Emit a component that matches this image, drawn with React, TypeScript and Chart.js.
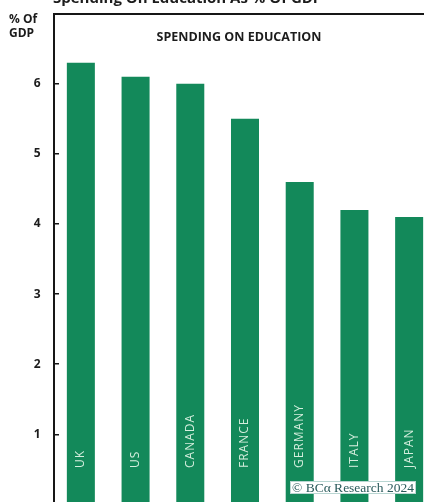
import React, { useEffect, useRef } from "react";
import { Chart, registerables } from "chart.js";

Chart.register(...registerables);

const countries = ["UK", "US", "CANADA", "FRANCE", "GERMANY", "ITALY", "JAPAN"];
const spendingPctGdp = [6.3, 6.1, 6.0, 5.5, 4.6, 4.2, 4.1];
const yTicks = [1, 2, 3, 4, 5, 6];

const BAR_GREEN = "#13895a";
const INK = "#1c1c1c";
const SANS = "'Open Sans', 'Noto Sans', sans-serif";

const CANVAS_W = 460;
const CANVAS_H = 545;
const OFFSET_TOP = 20;

// headings, unit label, bar names and source stamp
const textPlugin = {
  id: "texts",
  afterDatasetsDraw(chart: any) {
    const { ctx, scales } = chart;
    const x = scales.x;
    ctx.save();

    ctx.fillStyle = "#d4eedd";
    ctx.font = `12px ${SANS}`;
    ctx.textAlign = "left";
    ctx.textBaseline = "middle";
    countries.forEach((name, i) => {
      const px = x.getPixelForValue(i);
      ctx.save();
      ctx.translate(px, 468 + OFFSET_TOP);
      ctx.rotate(-Math.PI / 2);
      let cx = 0;
      for (const ch of name) {
        ctx.fillText(ch, cx, 0);
        cx += ctx.measureText(ch).width + 1;
      }
      ctx.restore();
    });

    ctx.fillStyle = INK;
    ctx.font = `bold 12.5px ${SANS}`;
    ctx.textAlign = "center";
    ctx.textBaseline = "middle";
    ctx.fillText("SPENDING ON EDUCATION", 239, 37 + OFFSET_TOP);

    ctx.textAlign = "left";
    ctx.font = `bold 12px ${SANS}`;
    ctx.fillText("% Of", 9, 20 + OFFSET_TOP);
    ctx.fillText("GDP", 9, 34 + OFFSET_TOP);

    ctx.font = `bold 15px ${SANS}`;
    ctx.textBaseline = "alphabetic";
    ctx.fillText("Spending On Education As % Of GDP", 53, 3 + OFFSET_TOP);

    const bx = 290, by = 481 + OFFSET_TOP, bw = 126, bh = 13;
    ctx.fillStyle = "#ffffff";
    ctx.fillRect(bx, by, bw, bh);
    ctx.fillStyle = "#b9d6d2";
    ctx.fillRect(bx, by, bw, 1);
    ctx.fillRect(bx, by + bh - 1, bw, 1);
    ctx.fillRect(bx, by, 1, bh);
    ctx.fillRect(bx + bw - 1, by, 1, bh);
    ctx.fillStyle = "#2b5b5c";
    ctx.font = "13.5px 'Liberation Serif', 'DejaVu Serif', serif";
    ctx.textAlign = "center";
    ctx.textBaseline = "middle";
    ctx.fillText("© BCα Research 2024", bx + bw / 2, by + bh / 2 + 1);

    ctx.restore();
  },
};

// plot frame and inward ticks on the value axis
const framePlugin = {
  id: "frame",
  afterDraw(chart: any) {
    const { ctx, chartArea, scales } = chart;
    const y = scales.y;
    const left = Math.round(chartArea.left);
    const top = Math.round(chartArea.top);
    const right = Math.round(chartArea.right);
    const bottom = Math.round(y.getPixelForValue(0));
    ctx.save();
    ctx.globalAlpha = 1;
    ctx.globalCompositeOperation = "source-over";
    ctx.fillStyle = "#161616";
    ctx.beginPath();
    ctx.rect(left - 1, top - 1, 2, bottom - top + 1);
    ctx.rect(left - 1, top - 1, right - left + 2, 2);
    ctx.rect(right - 1, top - 1, 2, bottom - top + 1);
    yTicks.forEach((v) => {
      const py = Math.round(y.getPixelForValue(v));
      ctx.rect(left, py - 1, 5, 1.5);
    });
    ctx.fill();
    ctx.restore();
  },
};

export default function App() {
  const canvasRef = useRef<HTMLCanvasElement | null>(null);

  useEffect(() => {
    const canvas = canvasRef.current;
    if (!canvas) return;
    const chart = new Chart(canvas, {
      type: "bar",
      data: {
        labels: countries,
        datasets: [
          {
            data: spendingPctGdp,
            backgroundColor: BAR_GREEN,
            borderWidth: 0,
            barPercentage: 0.512,
            categoryPercentage: 1,
          },
        ],
      },
      options: {
        responsive: false,
        animation: false,
        devicePixelRatio: 1,
        layout: {
          padding: { top: 33.5, right: CANVAS_W - 436.5, bottom: 12.8, left: 0 },
        },
        plugins: {
          legend: { display: false },
          title: { display: false },
          tooltip: { enabled: false },
        },
        scales: {
          x: {
            display: false,
            grid: { display: false },
          },
          y: {
            min: 0,
            max: 7,
            afterFit: (s: any) => {
              s.width = 53.5;
            },
            border: { display: false },
            grid: { display: false, drawTicks: false },
            ticks: {
              stepSize: 1,
              padding: 13,
              color: INK,
              font: { family: SANS, size: 12, weight: "bold" },
              callback: (v: any) => (yTicks.includes(Number(v)) ? String(v) : ""),
            },
          },
        },
      },
      plugins: [textPlugin, framePlugin],
    });
    return () => chart.destroy();
  }, []);

  return (
    <div
      style={{
        position: "fixed",
        left: 0,
        top: 0,
        width: 424,
        height: 502,
        overflow: "hidden",
        background: "#ffffff",
      }}
    >
      <canvas
        ref={canvasRef}
        width={CANVAS_W}
        height={CANVAS_H}
        style={{ position: "absolute", left: 0, top: -OFFSET_TOP, width: CANVAS_W, height: CANVAS_H }}
      />
    </div>
  );
}
